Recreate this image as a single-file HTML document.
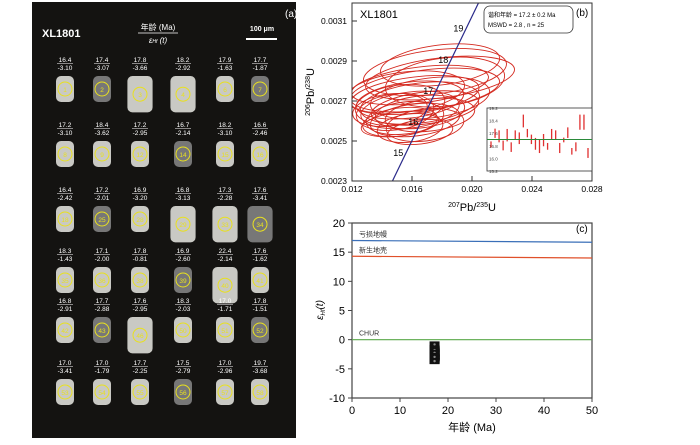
<!DOCTYPE html>
<html><head><meta charset="utf-8"><style>
body{margin:0;background:#fff;width:700px;height:440px;overflow:hidden;font-family:"Liberation Sans","Noto Sans CJK SC",sans-serif}
svg text{font-family:"Liberation Sans","Noto Sans CJK SC",sans-serif}
</style></head><body>
<svg id="fig" width="700" height="440" xmlns="http://www.w3.org/2000/svg">
<rect x="32" y="2" width="264" height="436" fill="#141311"/>
<text x="285" y="17" fill="#fff" font-size="10" font-family="Liberation Serif">(a)</text>
<text x="42" y="37" fill="#fff" font-size="11" font-weight="bold">XL1801</text>
<text x="158" y="30" fill="#fff" font-size="8" text-anchor="middle">年龄 (Ma)</text>
<line x1="138" y1="33" x2="178" y2="33" stroke="#fff" stroke-width="0.7"/>
<text x="158" y="43" fill="#fff" font-size="8" font-style="italic" text-anchor="middle">ε<tspan font-size="5">Hf</tspan> (t)</text>
<text x="262" y="31" fill="#fff" font-size="7" font-weight="bold" text-anchor="middle">100 μm</text>
<line x1="246" y1="39" x2="277" y2="39" stroke="#fff" stroke-width="2"/>
<g id="grains"></g>
<g id="pb"></g>
<g id="hf"></g>
</svg>
<script>
const NS="http://www.w3.org/2000/svg";
function mk(p,t,a){const e=document.createElementNS(NS,t);for(const k in a)e.setAttribute(k,a[k]);p.appendChild(e);return e;}
// ---- panel a data
const grainAges=[16.4,17.4,17.8,18.2,17.9,17.7,17.2,18.4,17.2,16.7,18.2,16.6,16.4,17.2,16.9,16.8,17.3,17.6,18.3,17.1,17.8,16.9,22.4,17.6,16.8,17.7,17.6,18.3,17.0,17.8,17.0,17.0,17.7,17.5,17.0,19.7];
const grainEps=[-3.10,-3.07,-3.66,-2.92,-1.63,-1.87,-3.10,-3.62,-2.95,-2.14,-3.10,-2.46,-2.42,-2.01,-3.20,-3.13,-2.28,-3.41,-1.43,-2.00,-0.81,-2.60,-2.14,-1.62,-2.91,-2.88,-2.95,-2.03,-1.71,-1.51,-3.41,-1.79,-2.25,-2.79,-2.96,-3.68];
const grainIds=["1","2","3","4","6","7","8","9","12","14","15","16","18","25","28","29","33","34","35","36","38","39","40","41","42","43","46","50","51","52","53","54","55","56","57","58"];
const colX=[65,102,140,183,225,260], rowY=[62,127,192,253,303,365];
const ga=document.getElementById('grains');
grainAges.forEach((a,i)=>{
  const cx=colX[i%6], y=rowY[Math.floor(i/6)];
  const g=mk(ga,'g',{});
  
  
  mk(g,'text',{x:cx,y:y,fill:'#fff','font-size':6.5,'text-anchor':'middle'}).textContent=a.toFixed(1);
  mk(g,'line',{x1:cx-8,y1:y+1.5,x2:cx+8,y2:y+1.5,stroke:'#fff','stroke-width':0.5});
  mk(g,'text',{x:cx,y:y+8,fill:'#fff','font-size':6.5,'text-anchor':'middle'}).textContent=grainEps[i].toFixed(2);
  const big=[2,3,15,16,17,22,26].includes(i)?1.4:1;
  const h=13*big, w=9*big;
  mk(g,'rect',{x:cx-w,y:y+14,width:2*w,height:2*h,rx:5,fill:i%4==1?'#777':'#c9c9c4'});
  mk(g,'circle',{cx:cx,cy:y+14+h,r:7,fill:'none',stroke:'#e8e020','stroke-width':1});
  mk(g,'text',{x:cx,y:y+17+h,fill:'#e8e020','font-size':6.5,'text-anchor':'middle'}).textContent=grainIds[i];
});
// ---- panel b data
const ellX=[0.01787,0.01753,0.01787,0.01653,0.01687,0.01553,0.01620,0.01720,0.01587,0.01653,0.01520,0.01687,0.01587,0.01653,0.01487,0.01720,0.01553,0.01620,0.01520,0.01687,0.01587,0.01653,0.01520,0.01820,0.01453];
const ellY=[0.00288,0.002845,0.002815,0.00278,0.002755,0.002745,0.00273,0.002715,0.002705,0.00269,0.00268,0.002665,0.002655,0.002645,0.002645,0.00263,0.002615,0.002605,0.002595,0.00258,0.002565,0.002545,0.002585,0.002795,0.002655];
const ellSx=[0.0040,0.0048,0.0050,0.0046,0.0050,0.0040,0.0043,0.0040,0.0036,0.0040,0.0030,0.0036,0.0033,0.0030,0.0026,0.0030,0.0026,0.0030,0.0025,0.0026,0.0022,0.0022,0.0026,0.0040,0.0025];
const ellSy=[0.0001,0.00011,0.0001,0.00009,0.0001,0.0001,0.00009,0.0001,0.00009,0.0001,0.0001,0.00008,0.00009,0.00008,0.00009,0.00008,0.00008,0.00008,0.00007,0.00008,0.00007,0.00006,0.00006,0.00012,0.00008];
const concAges=[15,16,17,18,19];
const xTicksB=[0.012,0.016,0.020,0.024,0.028];
const yTicksB=[0.0023,0.0025,0.0027,0.0029,0.0031];
const insetLo=[16.70,17.30,17.02,16.51,17.08,16.41,17.23,16.91,17.97,17.34,16.91,16.55,16.34,16.77,16.55,17.23,17.19,16.34,17.02,17.30,16.24,16.45,17.82,17.82,16.03];
const insetHi=[17.08,17.89,17.78,17.13,17.87,17.02,17.78,17.65,18.78,17.87,17.51,17.30,17.19,17.55,16.98,17.87,17.78,16.98,17.32,17.97,16.66,17.02,18.78,18.78,16.66];
const insetTicks=[15.2,16.0,16.8,17.6,18.4,19.2];
const meanAge=17.2;
const bx=v=>352+(v-0.012)/0.016*240, by=v=>181-(v-0.0023)/0.0008*160;
const pb=document.getElementById('pb');
const l238=1.55125e-10,l235=9.8485e-10;
const cx_=t=>Math.exp(l235*t*1e6)-1, cy_=t=>Math.exp(l238*t*1e6)-1;
const cp=mk(pb,'clipPath',{id:'cb'});mk(cp,'rect',{x:352,y:3,width:240,height:178});
const eg=mk(pb,'g',{'clip-path':'url(#cb)'});
ellX.forEach((x,i)=>{const e=mk(eg,'ellipse',{cx:bx(x),cy:by(ellY[i]),rx:ellSx[i]/0.016*240,ry:ellSy[i]/0.0008*160,fill:'none',stroke:'#d42a20','stroke-width':0.9,transform:`rotate(-7 ${bx(x)} ${by(ellY[i])})`});

});
const cl=mk(eg,'line',{x1:bx(cx_(13)),y1:by(cy_(13)),x2:bx(cx_(22)),y2:by(cy_(22)),stroke:'#2a2a8a','stroke-width':1.2});


concAges.forEach(t=>{const tx=mk(pb,'text',{x:bx(cx_(t))-2,y:by(cy_(t))-19,'font-size':9}); tx.textContent=t;

});
const fb=mk(pb,'rect',{x:352,y:3,width:240,height:178,fill:'none',stroke:'#333','stroke-width':1});


xTicksB.forEach(v=>{mk(pb,'line',{x1:bx(v),y1:181,x2:bx(v),y2:176,stroke:'#333'});
const t=mk(pb,'text',{x:bx(v),y:192,'font-size':8.5,'text-anchor':'middle'});t.textContent=v.toFixed(3);

});
yTicksB.forEach(v=>{mk(pb,'line',{x1:352,y1:by(v),x2:357,y2:by(v),stroke:'#333'});
const t=mk(pb,'text',{x:347,y:by(v)+3,'font-size':8.5,'text-anchor':'end'});t.textContent=v.toFixed(4);

});
const xt=mk(pb,'text',{x:472,y:211,'font-size':11,'text-anchor':'middle'});xt.innerHTML='<tspan font-size="7" dy="-4">207</tspan><tspan dy="4">Pb/</tspan><tspan font-size="7" dy="-4">235</tspan><tspan dy="4">U</tspan>';


const yt=mk(pb,'text',{x:0,y:0,'font-size':11,'text-anchor':'middle',transform:'translate(314,92) rotate(-90)'});yt.innerHTML='<tspan font-size="7" dy="-4">206</tspan><tspan dy="4">Pb/</tspan><tspan font-size="7" dy="-4">238</tspan><tspan dy="4">U</tspan>';


const sn=mk(pb,'text',{x:360,y:18,'font-size':11,'font-family':'Liberation Serif'});sn.textContent='XL1801';


const lb=mk(pb,'rect',{x:484,y:6,width:89,height:27,rx:6,fill:'#fff',stroke:'#333','stroke-width':0.8});


mk(pb,'text',{x:488,y:17,'font-size':6}).textContent='谐和年龄 = 17.2 ± 0.2 Ma';
mk(pb,'text',{x:488,y:27,'font-size':6}).textContent='MSWD = 2.8   ,     n = 25';
const pl=mk(pb,'text',{x:576,y:16,'font-size':10,'font-family':'Liberation Serif'});pl.textContent='(b)';


// inset
const iy=v=>171-(v-15.2)/4*63, ix=i=>491+i*(97/24);
const ib=mk(pb,'rect',{x:487,y:108,width:105,height:63,fill:'#fff',stroke:'#333','stroke-width':0.8});


insetTicks.forEach(v=>{mk(pb,'text',{x:489,y:iy(v)+2,'font-size':4.5,fill:'#444'}).textContent=v.toFixed(1);});
insetLo.forEach((lo,i)=>{const r=mk(pb,'line',{x1:ix(i),y1:iy(lo),x2:ix(i),y2:iy(insetHi[i]),stroke:'#e03030','stroke-width':1.3});

});
const ml=mk(pb,'line',{x1:487,y1:iy(meanAge),x2:592,y2:iy(meanAge),stroke:'#2a8a3a','stroke-width':1});


// ---- panel c
const refNames=['亏损地幔','新生地壳','CHUR'];
const refStart=[17.0,14.3,0];
const refEnd=[16.7,14.0,0];
const refColors=['#3a6fb8','#e0502a','#5aa84a'];
const xTicksC=[0,10,20,30,40,50];
const yTicksC=[-10,-5,0,5,10,15,20];
const hf=document.getElementById('hf');
const hx=v=>352+v/50*240, hy=v=>398-(v+10)/30*175;
const fc=mk(hf,'rect',{x:352,y:223,width:240,height:175,fill:'none',stroke:'#444','stroke-width':1.2});


refNames.forEach((n,i)=>{const l=mk(hf,'line',{x1:hx(0),y1:hy(refStart[i]),x2:hx(50),y2:hy(refEnd[i]),stroke:refColors[i],'stroke-width':1.2});


const t=mk(hf,'text',{x:359,y:hy(refStart[i])-4,'font-size':7,fill:'#333'});t.textContent=n;

});
xTicksC.forEach(v=>{mk(hf,'line',{x1:hx(v),y1:398,x2:hx(v),y2:402,stroke:'#444'});
const t=mk(hf,'text',{x:hx(v),y:414,'font-size':11,'text-anchor':'middle'});t.textContent=v;

});
yTicksC.forEach(v=>{mk(hf,'line',{x1:348,y1:hy(v),x2:352,y2:hy(v),stroke:'#444'});
const t=mk(hf,'text',{x:345,y:hy(v)+4,'font-size':11,'text-anchor':'end'});t.textContent=v;

});
grainAges.forEach((a,i)=>{if(a>20)return;const r=mk(hf,'rect',{x:hx(17.2)-5,y:hy(grainEps[i])-3,width:10,height:6,fill:'#111'});


mk(hf,'circle',{cx:hx(17.2),cy:hy(grainEps[i]),r:1.2,fill:'#888'});});
const xc=mk(hf,'text',{x:472,y:431,'font-size':11,'text-anchor':'middle'});xc.textContent='年龄 (Ma)';


const yc=mk(hf,'text',{x:0,y:0,'font-size':10,'font-family':'Liberation Serif','font-style':'italic','text-anchor':'middle',transform:'translate(323,310) rotate(-90)'});yc.innerHTML='ε<tspan font-size="6" dy="2">Hf</tspan><tspan dy="-2">(t)</tspan>';


const pc=mk(hf,'text',{x:576,y:232,'font-size':10,'font-family':'Liberation Serif'});pc.textContent='(c)';


</script>
</body></html>
